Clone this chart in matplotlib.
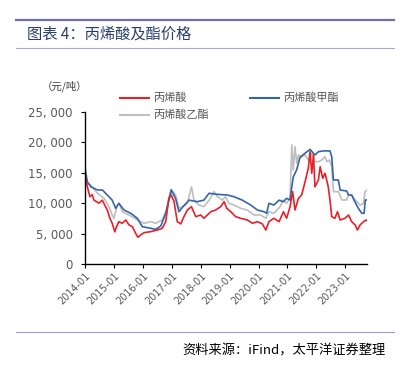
import matplotlib
matplotlib.use("Agg")
import matplotlib.pyplot as plt
from matplotlib.lines import Line2D

plt.rcParams['font.family'] = ['Noto Sans CJK SC', 'DejaVu Sans']

title = "图表 4：丙烯酸及酯价格"
source = "资料来源：iFind，太平洋证券整理"
unit = "（元/吨）"
series_names = ["丙烯酸", "丙烯酸甲酯", "丙烯酸乙酯"]
series_colors = ["#E8202A", "#3565A8", "#BEBEBE"]

# time in decimal years (e.g. 2014.50 = early July 2014)
red_t = [2014.00, 2014.08, 2014.17, 2014.25, 2014.31, 2014.40, 2014.48, 2014.60, 2014.68, 2014.77,
         2014.86, 2014.94, 2015.03, 2015.09, 2015.17, 2015.29, 2015.41, 2015.52, 2015.64, 2015.75,
         2015.83, 2015.92, 2016.04, 2016.27, 2016.50, 2016.67, 2016.79, 2016.90, 2016.98, 2017.08,
         2017.19, 2017.31, 2017.42, 2017.54, 2017.68, 2017.83, 2018.00, 2018.11, 2018.23, 2018.35,
         2018.52, 2018.69, 2018.81, 2018.90, 2019.04, 2019.21, 2019.38, 2019.61, 2019.79, 2019.96,
         2020.13, 2020.25, 2020.36, 2020.53, 2020.71, 2020.86, 2020.97, 2021.09, 2021.18, 2021.26,
         2021.38, 2021.49, 2021.61, 2021.72, 2021.78, 2021.84, 2021.90, 2021.95, 2022.07, 2022.13,
         2022.22, 2022.30, 2022.41, 2022.47, 2022.53, 2022.64, 2022.73, 2022.82, 2022.99, 2023.11,
         2023.22, 2023.34, 2023.42, 2023.51, 2023.63, 2023.72, 2023.75]
red_values = [14640, 12700, 11070, 11400, 10500, 10250, 10000, 10500, 9700, 8880,
              7520, 6700, 5300, 6140, 6960, 6700, 7240, 6420, 6140, 5050,
              4390, 4770, 5150, 5320, 5590, 5870, 6960, 10800, 11350, 10250,
              6960, 6600, 7780, 8880, 9430, 7780, 8060, 7520, 8060, 8600,
              8880, 9430, 10250, 9160, 8600, 7780, 7520, 7240, 6700, 6960,
              6600, 5590, 6960, 7520, 6960, 8600, 7520, 9430, 11900, 8880,
              10800, 11350, 13540, 15740, 18470, 14920, 17930, 12700, 13820, 16000,
              14100, 14920, 12700, 10530, 7780, 7520, 8600, 7240, 7520, 8060,
              6960, 6420, 5590, 6420, 6960, 7240, 7100]

blue_t = [2014.00, 2014.08, 2014.20, 2014.43, 2014.60, 2014.77, 2014.94, 2015.06, 2015.17, 2015.35,
          2015.58, 2015.81, 2015.98, 2016.27, 2016.44, 2016.62, 2016.79, 2016.90, 2016.98, 2017.13,
          2017.25, 2017.40, 2017.60, 2017.88, 2018.11, 2018.29, 2018.58, 2018.92, 2019.15, 2019.44,
          2019.73, 2019.96, 2020.19, 2020.28, 2020.36, 2020.53, 2020.71, 2020.86, 2020.97, 2021.09,
          2021.15, 2021.20, 2021.32, 2021.43, 2021.55, 2021.78, 2021.95, 2022.07, 2022.24, 2022.47,
          2022.53, 2022.59, 2022.76, 2022.82, 2023.05, 2023.11, 2023.22, 2023.30, 2023.45, 2023.57,
          2023.65, 2023.69, 2023.75]
blue_values = [15740, 13540, 12700, 12170, 12170, 11350, 10500, 9160, 9980, 8880,
               8340, 7520, 6140, 5870, 5700, 6250, 8340, 10500, 12170, 10800,
               8600, 9500, 10500, 10250, 10500, 11630, 11450, 11350, 11070, 10500,
               9700, 8880, 8600, 8340, 9980, 9700, 10500, 10250, 10800, 10530,
               12700, 14300, 15500, 17500, 18000, 18860, 17930, 18470, 18600, 18600,
               17650, 13820, 13820, 12170, 12000, 11350, 11350, 10530, 9160, 8340,
               8340, 10530, 10530]

gray_t = [2014.00, 2014.08, 2014.20, 2014.43, 2014.66, 2014.83, 2014.94, 2015.00, 2015.12, 2015.18,
          2015.29, 2015.52, 2015.81, 2016.04, 2016.27, 2016.44, 2016.67, 2016.82, 2016.94, 2016.98,
          2017.13, 2017.25, 2017.40, 2017.54, 2017.68, 2017.77, 2017.94, 2018.11, 2018.29, 2018.46,
          2018.58, 2018.75, 2018.86, 2018.98, 2019.15, 2019.38, 2019.61, 2019.84, 2020.07, 2020.25,
          2020.36, 2020.53, 2020.74, 2020.86, 2020.97, 2021.09, 2021.15, 2021.20, 2021.26, 2021.32,
          2021.38, 2021.49, 2021.61, 2021.72, 2021.84, 2021.95, 2022.07, 2022.18, 2022.30, 2022.36,
          2022.45, 2022.53, 2022.59, 2022.76, 2022.88, 2023.05, 2023.11, 2023.22, 2023.34, 2023.51,
          2023.63, 2023.68, 2023.75]
gray_values = [15180, 13270, 13000, 11630, 10800, 9430, 8060, 7520, 9700, 10000,
               8600, 8060, 7240, 6700, 6960, 6700, 7240, 8880, 11630, 12290,
               11350, 9160, 9500, 9980, 12700, 10500, 9700, 9430, 10500, 11900,
               11070, 10500, 11070, 9980, 9700, 9160, 8880, 8060, 8060, 7520,
               8600, 8340, 9400, 10500, 10000, 10800, 19580, 15460, 19300, 16570,
               17930, 17650, 17930, 17100, 18200, 16830, 16830, 17100, 17650, 16830,
               17100, 16000, 11900, 11900, 10530, 10530, 11350, 11350, 10530, 9700,
               9980, 11900, 12170]

x_tick_years = [2014, 2015, 2016, 2017, 2018, 2019, 2020, 2021, 2022, 2023]
x_tick_labels = ["2014-01", "2015-01", "2016-01", "2017-01", "2018-01", "2019-01",
                 "2020-01", "2021-01", "2022-01", "2023-01"]
y_ticks = [0, 5000, 10000, 15000, 20000, 25000]

W, H = 401, 367
fig = plt.figure(figsize=(W / 100, H / 100), dpi=100)

def fx(px):
    return px / W

def fy(py):
    return 1 - py / H

ax = fig.add_axes([fx(85), fy(264), fx(367) - fx(85), fy(112) - fy(264)])

all_t = [red_t, blue_t, gray_t]
all_values = [red_values, blue_values, gray_values]
for i in [2, 1, 0]:
    ax.plot(all_t[i], all_values[i], color=series_colors[i], lw=1.2)

ax.set_xlim(2014.0, 2023.75)
ax.set_ylim(0, 25000)
ax.set_yticks(y_ticks)
ax.set_yticklabels([f"{v:,}".replace(",", ", ") for v in y_ticks], fontsize=8.5, color="#595959",
                   family=['DejaVu Sans'])
ax.set_xticks(x_tick_years)
ax.set_xticklabels(x_tick_labels, rotation=45, ha="right", rotation_mode="anchor", fontsize=7,
                   color="#595959", family=['DejaVu Sans'])
for s in ["top", "right"]:
    ax.spines[s].set_visible(False)
for s in ["left", "bottom"]:
    ax.spines[s].set_color("black")
    ax.spines[s].set_linewidth(1.0)
ax.tick_params(axis="both", direction="out", length=3, width=0.8, color="black")
ax.tick_params(axis="y", pad=6)
ax.tick_params(axis="x", pad=2)

# header and footer
fig.add_artist(Line2D([fx(16), fx(394)], [fy(20), fy(20)], color="#6F6FA0", lw=1.6))
fig.add_artist(Line2D([fx(16), fx(394)], [fy(48), fy(48)], color="#A8A8D2", lw=0.8))
fig.add_artist(Line2D([fx(16), fx(394)], [fy(332), fy(332)], color="#9C9CD0", lw=0.8))
fig.text(fx(27), fy(34), title, fontsize=11, color="#2B3E6B", va="center", ha="left")
fig.text(fx(386), fy(351), source, fontsize=9.5, color="black", va="center", ha="right")
fig.text(fx(42), fy(86), unit, fontsize=7.5, color="#404040", va="center", ha="left")

# legend
leg_pos = [(120, 98), (250, 98), (120, 115)]
for i, (lx, ly) in enumerate(leg_pos):
    fig.add_artist(Line2D([fx(lx), fx(lx + 29)], [fy(ly), fy(ly)], color=series_colors[i], lw=1.5))
    fig.text(fx(lx + 33), fy(ly), series_names[i], fontsize=8, color="#595959", va="center",
             ha="left")

fig.savefig("out.png", dpi=100)
